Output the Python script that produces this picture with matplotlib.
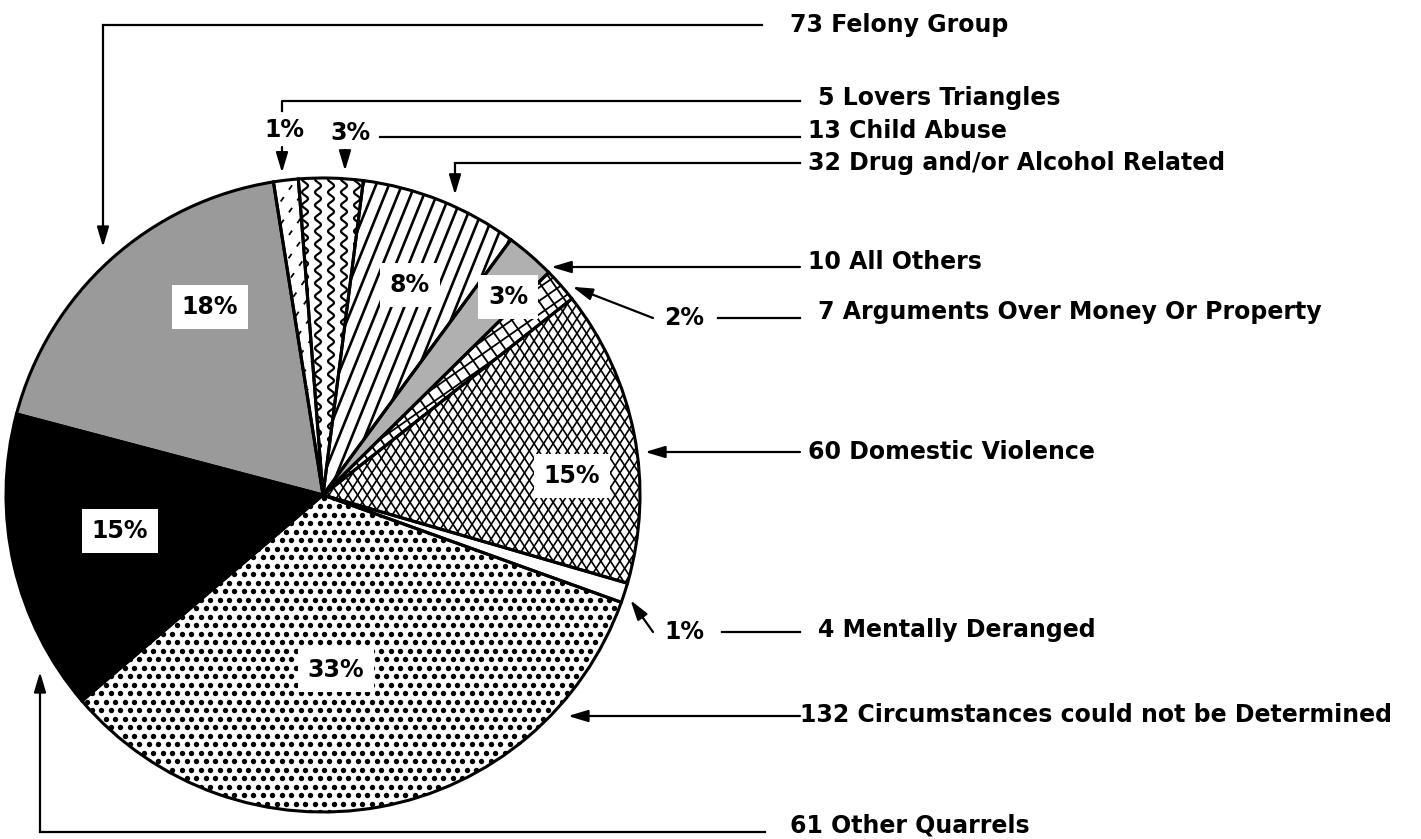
import numpy as np
import matplotlib.pyplot as plt
from matplotlib.patches import Wedge

plt.rcParams['font.family'] = ['DejaVu Sans']

# Homicide circumstances (counts), clockwise from the top
categories = ["Lovers Triangles", "Child Abuse", "Drug and/or Alcohol Related",
              "All Others", "Arguments Over Money Or Property", "Domestic Violence",
              "Mentally Deranged", "Circumstances could not be Determined",
              "Other Quarrels", "Felony Group"]
counts = [5, 13, 32, 10, 7, 60, 4, 132, 61, 73]

total = sum(counts)
shares = [f"{round(100 * c / total)}%" for c in counts]

W, H = 1421, 839
CX, CY, R = 323, 495, 317          # pie centre / radius in pixels (y down)
FS = 17


def P(x, y):
    return (x, H - y)


fig = plt.figure(figsize=(W / 100, H / 100), dpi=100)
ax = fig.add_axes([0, 0, 1, 1])

fills = ['white', 'white', 'white', '#b0b0b0', 'white', 'white',
         'white', 'white', 'black', '#9a9a9a']
wedges, _ = ax.pie(counts, startangle=99, counterclock=False, center=P(CX, CY),
                   radius=R, colors=fills,
                   wedgeprops=dict(edgecolor='none', linewidth=0, zorder=1))
ax.set_xlim(0, W)
ax.set_ylim(0, H)
ax.set_aspect('equal')
ax.axis('off')

c0 = np.array(P(CX, CY), dtype=float)


def stripes(w, ang, gap, **kw):
    a = np.radians(ang)
    d = np.array([np.cos(a), np.sin(a)])
    n = np.array([-np.sin(a), np.cos(a)])
    for off in np.arange(-R, R + gap, gap):
        p0 = c0 + n * off - d * R
        p1 = c0 + n * off + d * R
        ln, = ax.plot([p0[0], p1[0]], [p0[1], p1[1]], color='black',
                      solid_capstyle='butt', zorder=2, **kw)
        ln.set_clip_path(w)


def waves(w, gap, amp, period, lw):
    yy = np.linspace(c0[1] - R, c0[1] + R, 900)
    for x0 in np.arange(c0[0] - R, c0[0] + R, gap):
        ln, = ax.plot(x0 + amp * np.sin(2 * np.pi * yy / period), yy,
                      color='black', lw=lw, zorder=2)
        ln.set_clip_path(w)


def dots(w, dx, dy, size):
    pts = []
    for j, y in enumerate(np.arange(c0[1] - R, c0[1] + R, dy)):
        for x in np.arange(c0[0] - R + (j % 2) * dx / 2, c0[0] + R, dx):
            pts.append((x, y))
    pts = np.array(pts)
    sc = ax.scatter(pts[:, 0], pts[:, 1], s=size, color='black', lw=0, zorder=2)
    sc.set_clip_path(w)


stripes(wedges[0], 55, 13, lw=1.3, linestyle=(0, (3, 5)))
waves(wedges[1], 13, 3.0, 13, 1.6)
stripes(wedges[2], 68, 12, lw=1.9)
stripes(wedges[4], 35, 11, lw=1.3)
stripes(wedges[4], -55, 11, lw=1.3)
stripes(wedges[5], 57, 8, lw=1.2)
stripes(wedges[5], 123, 8, lw=1.2)
dots(wedges[7], 9.5, 8.5, 15)

for w in wedges:
    ax.add_patch(Wedge(w.center, w.r, w.theta1, w.theta2, fill=False,
                       ec='black', lw=2.2, zorder=3))

# percentages inside the pie
inside = {9: (210, 307), 2: (410, 285), 3: (508, 297), 5: (572, 476),
          7: (336, 670), 8: (120, 531)}
for i, (x, y) in inside.items():
    ax.text(*P(x, y), shares[i], fontsize=FS, fontweight='bold', ha='center',
            va='center', zorder=5,
            bbox=dict(boxstyle='square,pad=0.42', fc='white', ec='none'))

# percentages outside
outside = {0: (284, 130), 1: (350, 133), 4: (684, 318), 6: (684, 632)}
for i, (x, y) in outside.items():
    ax.text(*P(x, y), shares[i], fontsize=FS, fontweight='bold', ha='center',
            va='center', zorder=5)

# category labels
label_pos = [(818, 98), (808, 131), (808, 163), (808, 262), (818, 312),
             (808, 452), (818, 630), (800, 715), (790, 826), (790, 25)]
for i, (x, y) in enumerate(label_pos):
    ax.text(*P(x, y), f"{counts[i]} {categories[i]}", fontsize=FS,
            fontweight='bold', ha='left', va='center', zorder=5)


def line(xs, ys):
    ax.plot(xs, [H - y for y in ys], color='black', lw=1.6, zorder=4)


def arrow(tail, tip):
    ax.annotate('', xy=P(*tip), xytext=P(*tail), zorder=4,
                arrowprops=dict(arrowstyle='-|>,head_length=0.6,head_width=0.18',
                                mutation_scale=20, lw=1.6, color='black',
                                shrinkA=0, shrinkB=0))


def edge_tip(i, px=None, py=None, gap=8):
    # point just outside the rim of wedge i, near the given x or y
    w = wedges[i]
    lo, hi = sorted((w.theta1, w.theta2))
    if py is not None:
        ang = np.degrees(np.arcsin((CY - py) / R))
    else:
        ang = np.degrees(np.arccos((px - CX) / R))
    inset = 0.25 * (hi - lo)
    if lo <= ang <= hi:
        if py is not None:
            return (CX + np.sqrt(R ** 2 - (CY - py) ** 2) + gap, py)
        return (px, CY - np.sqrt(R ** 2 - (px - CX) ** 2) - gap)
    ang = np.radians(min(max(ang, lo + inset), hi - inset))
    return (CX + (R + gap) * np.cos(ang), CY - (R + gap) * np.sin(ang))


# Felony Group
line([762, 103], [25, 25])
arrow((103, 25), (103, 247))
# Lovers Triangles
line([800, 282, 282], [101, 101, 111])
arrow((282, 147), edge_tip(0, px=282))
# Child Abuse
line([380, 800], [137, 137])
arrow((345, 150), edge_tip(1, px=345))
# Drug and/or Alcohol Related
line([800, 455], [163, 163])
arrow((455, 163), edge_tip(2, px=455, gap=12))
# All Others
arrow((800, 267), edge_tip(3, py=267))
# Arguments
line([800, 718], [318, 318])
arrow((653, 318), edge_tip(4, py=318))
# Domestic Violence
arrow((800, 452), edge_tip(5, py=452))
# Mentally Deranged
line([800, 722], [632, 632])
arrow((653, 632), edge_tip(6, py=632))
# Circumstances
arrow((800, 716), (568, 716))
# Other Quarrels
line([765, 40], [832, 832])
arrow((40, 832), (40, 672))

fig.savefig("out.png", dpi=100)
